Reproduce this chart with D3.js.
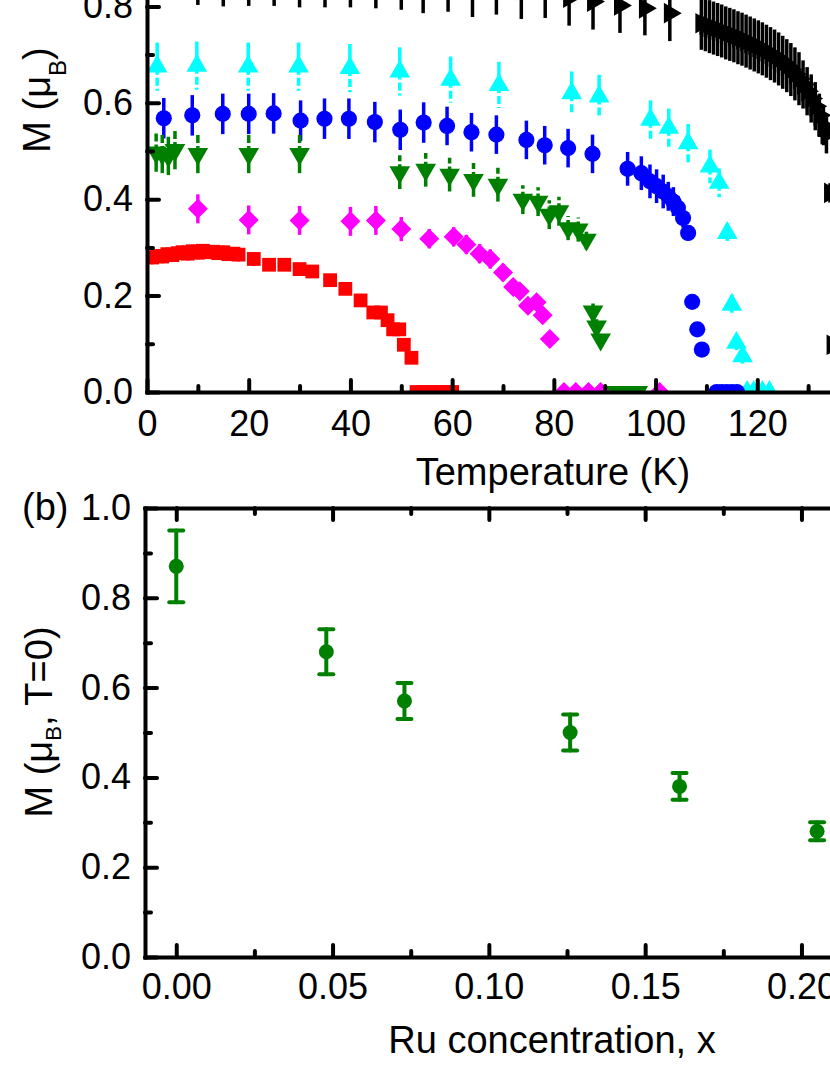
<!DOCTYPE html>
<html>
<head>
<meta charset="utf-8">
<script src="https://cdnjs.cloudflare.com/ajax/libs/d3/7.8.5/d3.min.js"></script>
<style>
    body { margin: 0; background: #fff; }
    svg { display: block; }
</style>
</head>
<body>
<div id="chart"></div>
<script>
// panel (a): magnetic moment vs temperature, one list per Ru concentration
// each point is [T (K), M (muB), error]
var seriesX0 = [
    [10, 0.863, 0.06], [15, 0.860, 0.06], [20, 0.861, 0.06], [25, 0.861, 0.06], [30, 0.858, 0.06],
    [35, 0.858, 0.06], [40, 0.858, 0.06], [45, 0.856, 0.06], [50, 0.853, 0.06], [54.3, 0.846, 0.06],
    [59.2, 0.849, 0.06], [64, 0.838, 0.06], [68.7, 0.843, 0.06], [73.6, 0.834, 0.06], [78.3, 0.836, 0.06],
    [83, 0.818, 0.058], [87.7, 0.810, 0.058], [93, 0.802, 0.057], [97.9, 0.796, 0.056], [102.8, 0.786, 0.058],
    [109.0, 0.765, 0.055], [109.8, 0.762, 0.055], [110.6, 0.758, 0.055], [111.4, 0.755, 0.055],
    [112.2, 0.752, 0.055], [113.0, 0.749, 0.055], [113.8, 0.745, 0.055], [114.6, 0.742, 0.055],
    [115.4, 0.739, 0.055], [116.2, 0.735, 0.055], [117.0, 0.732, 0.055], [117.8, 0.728, 0.055],
    [118.6, 0.724, 0.055], [119.4, 0.720, 0.055], [120.2, 0.716, 0.055], [121.0, 0.712, 0.055],
    [121.8, 0.707, 0.055], [122.6, 0.702, 0.055], [123.4, 0.697, 0.055], [124.2, 0.691, 0.055],
    [125.0, 0.684, 0.055], [125.8, 0.677, 0.055], [126.6, 0.669, 0.055], [127.4, 0.660, 0.055],
    [128.2, 0.650, 0.055], [129.0, 0.638, 0.05], [129.8, 0.624, 0.05], [130.6, 0.609, 0.05],
    [131.4, 0.593, 0.05], [132.2, 0.574, 0.045], [133.0, 0.552, 0.04], [133.6, 0.535, 0.04],
    [134.3, 0.413, 0.02], [134.8, 0.098, 0.01]
];
var seriesX048 = [
    [2, 0.675, 0.05], [9.8, 0.677, 0.05], [19.9, 0.675, 0.05], [29.8, 0.675, 0.05], [39.9, 0.672, 0.05],
    [49.7, 0.665, 0.05], [59.7, 0.648, 0.048], [69.2, 0.637, 0.048], [83.5, 0.620, 0.045], [88.9, 0.613, 0.045],
    [99, 0.565, 0.04], [102.6, 0.548, 0.04], [106.4, 0.516, 0.04], [110.7, 0.468, 0.035], [112.5, 0.434, 0.03],
    [114.1, 0.330, 0.02], [115, 0.181, 0.02], [115.9, 0.102, 0.015], [117.1, 0.074, 0.015],
    [118, 0, 0], [119.3, 0, 0], [121, 0, 0], [122.4, 0, 0]
];
var seriesX073 = [
    [3.3, 0.568, 0.042], [8.9, 0.574, 0.042], [14.9, 0.577, 0.042], [20, 0.577, 0.042], [24.9, 0.578, 0.042],
    [30.2, 0.563, 0.042], [34.9, 0.567, 0.042], [39.7, 0.567, 0.042], [44.8, 0.560, 0.042], [49.8, 0.544, 0.042],
    [54.4, 0.559, 0.042], [59, 0.552, 0.04], [63.8, 0.539, 0.04], [68.7, 0.534, 0.04], [74.6, 0.523, 0.04],
    [78.2, 0.512, 0.04], [82.8, 0.506, 0.04], [87.6, 0.494, 0.04], [94.5, 0.463, 0.035], [97.2, 0.454, 0.035],
    [98.9, 0.437, 0.035], [100.2, 0.427, 0.035], [101.5, 0.416, 0.035], [102.5, 0.406, 0.03], [103.5, 0.395, 0.03],
    [104.4, 0.382, 0.025], [105.4, 0.361, 0.02], [106.4, 0.330, 0.015], [107.2, 0.187, 0.008],
    [108.2, 0.130, 0.008], [109.1, 0.088, 0.008],
    [112, 0, 0], [113, 0, 0], [114, 0, 0], [115, 0, 0], [116, 0, 0]
];
var seriesX126 = [
    [1.8, 0.497, 0.04], [3, 0.494, 0.04], [4.2, 0.490, 0.04], [5.5, 0.502, 0.04], [10, 0.494, 0.04],
    [20, 0.494, 0.04], [30, 0.494, 0.04], [49.7, 0.456, 0.035], [54.8, 0.461, 0.035], [59.5, 0.451, 0.035],
    [64.2, 0.440, 0.035], [69, 0.430, 0.035], [73.9, 0.399, 0.03], [76.9, 0.395, 0.03], [79.1, 0.368, 0.03],
    [81, 0.375, 0.03], [82.8, 0.340, 0.025], [84.8, 0.337, 0.025], [86.4, 0.316, 0.02], [87.7, 0.167, 0.02],
    [88.4, 0.136, 0.015], [89.2, 0.109, 0.01],
    [90.5, 0, 0], [92, 0, 0], [93.5, 0, 0], [95, 0, 0], [96.5, 0, 0]
];
var seriesX161 = [
    [10, 0.380, 0.03], [20, 0.357, 0.03], [30, 0.356, 0.03], [40, 0.354, 0.03], [45, 0.356, 0.03],
    [50, 0.338, 0.025], [55.5, 0.318, 0.02], [60.3, 0.322, 0.02], [62.8, 0.306, 0.02], [65.4, 0.287, 0.02],
    [67.5, 0.276, 0.02], [70, 0.248, 0.018], [72, 0.218, 0.015], [73.3, 0.209, 0.015], [74.9, 0.179, 0.012],
    [76.6, 0.186, 0.012], [77.8, 0.159, 0.01], [79.2, 0.110, 0.005],
    [82, 0, 0], [84.3, 0, 0], [86.8, 0, 0], [89.2, 0, 0], [100.8, 0, 0]
];
var seriesX205 = [
    [1, 0.279, 0.014], [2, 0.282, 0.014], [3, 0.281, 0.014], [4, 0.286, 0.014], [5, 0.284, 0.014],
    [6, 0.288, 0.014], [7, 0.290, 0.014], [8, 0.287, 0.014], [9, 0.292, 0.014], [10, 0.289, 0.014],
    [11, 0.293, 0.014], [12, 0.290, 0.014], [13, 0.291, 0.014], [14, 0.288, 0.014], [15, 0.290, 0.014],
    [16, 0.286, 0.014], [17, 0.287, 0.014], [18, 0.285, 0.014], [21, 0.276, 0.014], [24, 0.264, 0.013],
    [27, 0.264, 0.013], [30, 0.255, 0.012], [32.5, 0.250, 0.012], [36, 0.232, 0.012], [39, 0.214, 0.012],
    [42, 0.190, 0.011], [44.5, 0.165, 0.011], [46, 0.165, 0.011], [47.3, 0.149, 0.01], [48.4, 0.130, 0.01],
    [49.6, 0.130, 0.01], [50.5, 0.098, 0.01], [52, 0.071, 0.008],
    [53, 0, 0], [54.5, 0, 0], [56, 0, 0], [57.5, 0, 0], [59, 0, 0], [60, 0, 0]
];

// panel (b): ordered moment at T=0 vs Ru concentration
var ruConc = [0, 0.048, 0.073, 0.126, 0.161, 0.205];
var ruMoment = [0.87, 0.68, 0.57, 0.50, 0.38, 0.28];
var ruError = [0.08, 0.05, 0.04, 0.04, 0.03, 0.02];

// ticks
var tempTicks = [0, 20, 40, 60, 80, 100, 120];
var tempMinor = [10, 30, 50, 70, 90, 110, 130];
var momentTicks = [0, 0.2, 0.4, 0.6, 0.8, 1.0];
var momentMinor = [0.1, 0.3, 0.5, 0.7, 0.9];
var ruTicks = [0, 0.05, 0.10, 0.15, 0.20];
var ruMinor = [0.025, 0.075, 0.125, 0.175, 0.225];

var FONT = '"Liberation Sans", Arial, Helvetica, sans-serif';

var chart = (function () {

    function styleAxis(g, fontSize) {
        g.attr("font-family", FONT).attr("font-size", fontSize);
        g.selectAll("path, line").attr("stroke", "#000").attr("stroke-width", 4);
        g.select(".domain").attr("stroke-linecap", "square");
        g.selectAll(".tick line").attr("stroke-linecap", "round");
        g.selectAll("text").attr("fill", "#000");
    }

    function addAxis(svg, gen, tx, ty, fontSize) {
        var g = svg.append("g").attr("transform", "translate(" + tx + "," + ty + ")").call(gen);
        styleAxis(g, fontSize);
        return g;
    }

    function addMinor(svg, gen, tx, ty) {
        var g = svg.append("g").attr("transform", "translate(" + tx + "," + ty + ")").call(gen);
        g.select(".domain").remove();
        styleAxis(g, 10);
        return g;
    }

    function drawSeries(g, pts, x, y, opt) {
        var withErr = pts.filter(function (d) { return d[2] > 0; });

        g.selectAll(null).data(withErr).enter().append("line")
            .attr("x1", function (d) { return x(d[0]); })
            .attr("x2", function (d) { return x(d[0]); })
            .attr("y1", function (d) { return y(d[1]); })
            .attr("y2", function (d) { return y(d[1] + d[2]); })
            .attr("stroke", opt.color)
            .attr("stroke-width", 3.5)
            .attr("stroke-dasharray", opt.dashUp ? "8,3" : null);

        g.selectAll(null).data(withErr).enter().append("line")
            .attr("x1", function (d) { return x(d[0]); })
            .attr("x2", function (d) { return x(d[0]); })
            .attr("y1", function (d) { return y(d[1]); })
            .attr("y2", function (d) { return y(d[1] - d[2]); })
            .attr("stroke", opt.color)
            .attr("stroke-width", 3.5)
            .attr("stroke-dasharray", opt.dashDown ? "8,3" : null);

        g.selectAll(null).data(pts).enter().append("path")
            .attr("d", d3.symbol().type(opt.type).size(opt.size))
            .attr("transform", function (d) {
                return "translate(" + x(d[0]) + "," + y(d[1]) + ") rotate(" + opt.rot + ")";
            })
            .attr("fill", opt.color);
    }

    function yTitle(svg, x, y, sub, after, subSize, drop) {
        var t = svg.append("text")
            .attr("transform", "translate(" + x + "," + y + ") rotate(-90)")
            .attr("text-anchor", "middle")
            .attr("font-family", FONT)
            .attr("font-size", 38)
            .attr("fill", "#000");
        t.append("tspan").text("M (\u03bc");
        t.append("tspan").attr("font-size", subSize).attr("dy", drop).text(sub);
        t.append("tspan").attr("dy", -drop).text(after);
    }

    return {
        panelA: function (svg) {
            var x = d3.scaleLinear().domain([0, 140]).range([147, 859]);
            var y = d3.scaleLinear().domain([0, 1]).range([392, -90]);

            svg.append("clipPath").attr("id", "clipA")
                .append("rect").attr("x", 147).attr("y", -200).attr("width", 800).attr("height", 592);

            var plot = svg.append("g").attr("clip-path", "url(#clipA)");

            drawSeries(plot, seriesX0, x, y, {color: "#000000", type: d3.symbolTriangle, size: 185, rot: 90});
            drawSeries(plot, seriesX048, x, y, {color: "#00ffff", type: d3.symbolTriangle, size: 185, rot: 0, dashDown: true});
            drawSeries(plot, seriesX073, x, y, {color: "#0000ff", type: d3.symbolCircle, size: 205, rot: 0});
            drawSeries(plot, seriesX126, x, y, {color: "#008000", type: d3.symbolTriangle, size: 185, rot: 180, dashUp: true});
            drawSeries(plot, seriesX161, x, y, {color: "#ff00ff", type: d3.symbolSquare, size: 200, rot: 45});
            drawSeries(plot, seriesX205, x, y, {color: "#ff0000", type: d3.symbolSquare, size: 190, rot: 0});

            addMinor(svg, d3.axisBottom(x).tickValues(tempMinor).tickSize(-6).tickFormat(""), 0, 392);
            addMinor(svg, d3.axisLeft(y).tickValues(momentMinor).tickSize(-6).tickFormat(""), 147, 0);
            addAxis(svg, d3.axisBottom(x).tickValues(tempTicks).tickSize(-12).tickSizeOuter(0)
                .tickPadding(18).tickFormat(d3.format("d")), 0, 392, 36);
            addAxis(svg, d3.axisLeft(y).tickValues(momentTicks).tickSize(-12).tickSizeOuter(0)
                .tickPadding(14).tickFormat(d3.format(".1f")), 147, 0, 36);

            svg.append("text")
                .attr("x", 553).attr("y", 485)
                .attr("text-anchor", "middle")
                .attr("font-family", FONT).attr("font-size", 38)
                .text("Temperature (K)");

            yTitle(svg, 50, 100, "B", ")", 24, 16);
        },

        panelB: function (svg) {
            var x = d3.scaleLinear().domain([-0.01, 0.24]).range([145, 926.5]);
            var y = d3.scaleLinear().domain([0, 1]).range([957, 508]);
            var green = "#008000";
            var pts = ruConc.map(function (c, i) { return [c, ruMoment[i], ruError[i]]; });

            addMinor(svg, d3.axisBottom(x).tickValues(ruMinor).tickSize(-6).tickFormat(""), 0, 957);
            addMinor(svg, d3.axisTop(x).tickValues(ruMinor).tickSize(-6).tickFormat(""), 0, 508);
            addMinor(svg, d3.axisLeft(y).tickValues(momentMinor).tickSize(-6).tickFormat(""), 145, 0);
            addAxis(svg, d3.axisTop(x).tickValues(ruTicks).tickSize(-12).tickSizeOuter(0).tickFormat(""), 0, 508, 10);
            addAxis(svg, d3.axisBottom(x).tickValues(ruTicks).tickSize(-12).tickSizeOuter(0)
                .tickPadding(16).tickFormat(d3.format(".2f")), 0, 957, 36);
            addAxis(svg, d3.axisLeft(y).tickValues(momentTicks).tickSize(-12).tickSizeOuter(0)
                .tickPadding(14).tickFormat(d3.format(".1f")), 145, 0, 36);

            var g = svg.append("g");
            var pt = g.selectAll(null).data(pts).enter().append("g")
                .attr("stroke", green).attr("stroke-width", 4).attr("stroke-linecap", "round");
            pt.append("line")
                .attr("x1", function (d) { return x(d[0]); })
                .attr("x2", function (d) { return x(d[0]); })
                .attr("y1", function (d) { return y(d[1] - d[2]); })
                .attr("y2", function (d) { return y(d[1] + d[2]); });
            pt.append("line")
                .attr("x1", function (d) { return x(d[0]) - 7; })
                .attr("x2", function (d) { return x(d[0]) + 7; })
                .attr("y1", function (d) { return y(d[1] + d[2]); })
                .attr("y2", function (d) { return y(d[1] + d[2]); });
            pt.append("line")
                .attr("x1", function (d) { return x(d[0]) - 7; })
                .attr("x2", function (d) { return x(d[0]) + 7; })
                .attr("y1", function (d) { return y(d[1] - d[2]); })
                .attr("y2", function (d) { return y(d[1] - d[2]); });
            pt.append("circle")
                .attr("cx", function (d) { return x(d[0]); })
                .attr("cy", function (d) { return y(d[1]); })
                .attr("r", 7.5)
                .attr("stroke", "none")
                .attr("fill", green);

            svg.append("text")
                .attr("x", 552).attr("y", 1053)
                .attr("text-anchor", "middle")
                .attr("font-family", FONT).attr("font-size", 38)
                .text("Ru concentration, x");

            svg.append("text")
                .attr("x", 22).attr("y", 520)
                .attr("font-family", FONT).attr("font-size", 38)
                .text("(b)");

            yTitle(svg, 52, 722, "B", ", T=0)", 22, 9);
        }
    }
})();

var svg = d3.select("#chart").append("svg")
    .attr("width", 830)
    .attr("height", 1075);

chart.panelA(svg);
chart.panelB(svg);
</script>
</body>
</html>
